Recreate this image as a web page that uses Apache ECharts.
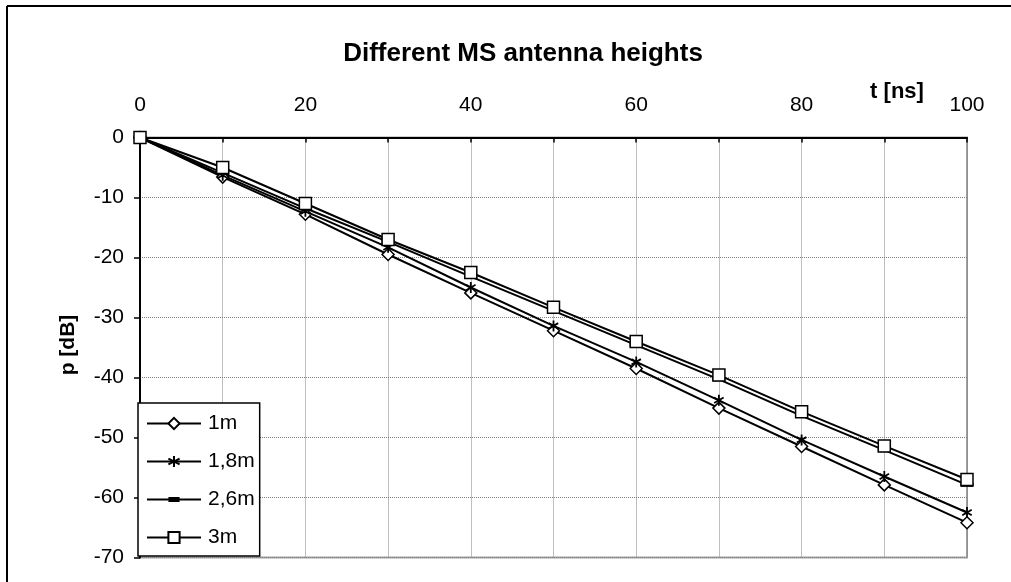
<!DOCTYPE html>
<html>
<head>
<meta charset="utf-8">
<script src="https://cdn.jsdelivr.net/npm/echarts@6/dist/echarts.min.js"></script>
<style>
html,body{margin:0;padding:0;background:#fff;}
#chart{width:1011px;height:582px;}
</style>
</head>
<body>
<div id="chart"></div>
<script>
var tValues = [0, 10, 20, 30, 40, 50, 60, 70, 80, 90, 100];
var seriesNames = ['1m', '1,8m', '2,6m', '3m'];
var p1m  = [0, -6.6, -12.8, -19.5, -25.9, -32.2, -38.5, -45.1, -51.5, -57.9, -64.2];
var p18m = [0, -6.3, -12.3, -18.3, -25.0, -31.4, -37.4, -43.8, -50.4, -56.5, -62.5];
var p26m = [0, -5.9, -11.8, -17.4, -23.2, -28.9, -34.6, -40.3, -46.4, -52.1, -57.9];
var p3m  = [0, -5.0, -11.0, -17.0, -22.5, -28.3, -34.0, -39.6, -45.7, -51.4, -57.0];
var titleText = 'Different MS antenna heights';
var xName = 't [ns]';
var yName = 'p [dB]';

function pairs(vals){ return tValues.map(function(t,i){ return [t, vals[i]]; }); }

var FONT = 'Liberation Sans, Arial, sans-serif';
var starPath = 'path://M5,0 L5,10 M0.7,2.5 L9.3,7.5 M0.7,7.5 L9.3,2.5';
var dashPath = 'path://M0,0 M13,9 M0,2.5 L13,2.5 L13,6.5 L0,6.5 Z';

function mk(name, vals, symbol, size, fill, bw){
  return {
    name: name, type: 'line', data: pairs(vals), clip: false,
    symbol: symbol, symbolSize: size, symbolKeepAspect: true, showAllSymbol: true,
    lineStyle: {color: '#000', width: 2},
    itemStyle: {color: fill, borderColor: '#000', borderWidth: bw},
    emphasis: {disabled: true}
  };
}

var chart = echarts.init(document.getElementById('chart'));
chart.setOption({
  animation: false,
  backgroundColor: '#fff',
  grid: {left: 140, top: 137.5, right: 44, bottom: 24.5, show: true, borderColor: '#a0a0a0', borderWidth: 2, backgroundColor: 'transparent'},
  xAxis: {
    type: 'value', position: 'top', min: 0, max: 100, interval: 10,
    axisLine: {show: true, onZero: false, lineStyle: {color: '#000', width: 2}},
    axisTick: {show: true, inside: true, length: 5, lineStyle: {color: '#000', width: 1.5}},
    axisLabel: {margin: 22, fontFamily: FONT, fontSize: 21, color: '#000',
      formatter: function(v){ return (v % 20 === 0) ? String(v) : ''; }},
    splitLine: {show: true, lineStyle: {color: '#808080', type: 'dotted', width: 1}}
  },
  yAxis: {
    type: 'value', min: -70, max: 0, interval: 10,
    axisLine: {show: true, onZero: false, lineStyle: {color: '#000', width: 2}},
    axisTick: {show: true, inside: false, length: 6, lineStyle: {color: '#000', width: 1.5}},
    axisLabel: {margin: 16, fontFamily: FONT, fontSize: 21, color: '#000'},
    splitLine: {show: true, lineStyle: {color: '#808080', type: 'dotted', width: 1}}
  },
  legend: {
    orient: 'vertical', left: 138, top: 403,
    data: seriesNames,
    itemWidth: 54, itemHeight: 14, itemGap: 17,
    padding: [10, 5, 8, 8],
    backgroundColor: '#fff', borderColor: '#000', borderWidth: 1.5, borderRadius: 0,
    textStyle: {fontFamily: FONT, fontSize: 21, color: '#000', padding: [0, 0, 0, 2]}
  },
  graphic: [
    {type: 'line', shape: {x1: 7, y1: 6, x2: 1011, y2: 6}, style: {stroke: '#000', lineWidth: 2}},
    {type: 'line', shape: {x1: 7, y1: 6, x2: 7, y2: 582}, style: {stroke: '#000', lineWidth: 2}},
    {type: 'text', x: 523, y: 54, style: {text: titleText, fontFamily: FONT, fontSize: 26, fontWeight: 'bold', fill: '#000', textAlign: 'center', textVerticalAlign: 'middle'}},
    {type: 'text', x: 897, y: 92, style: {text: xName, fontFamily: FONT, fontSize: 22, fontWeight: 'bold', fill: '#000', textAlign: 'center', textVerticalAlign: 'middle'}},
    {type: 'text', x: 68, y: 345, rotation: Math.PI/2, style: {text: yName, fontFamily: FONT, fontSize: 21, fontWeight: 'bold', fill: '#000', textAlign: 'center', textVerticalAlign: 'middle'}}
  ],
  series: [
    mk(seriesNames[0], p1m, 'diamond', 12, '#fff', 1.5),
    mk(seriesNames[1], p18m, starPath, 11, '#000', 1.8),
    mk(seriesNames[2], p26m, dashPath, 13, '#000', 0),
    mk(seriesNames[3], p3m, 'rect', 12, '#fff', 1.5)
  ]
});
</script>
</body>
</html>
